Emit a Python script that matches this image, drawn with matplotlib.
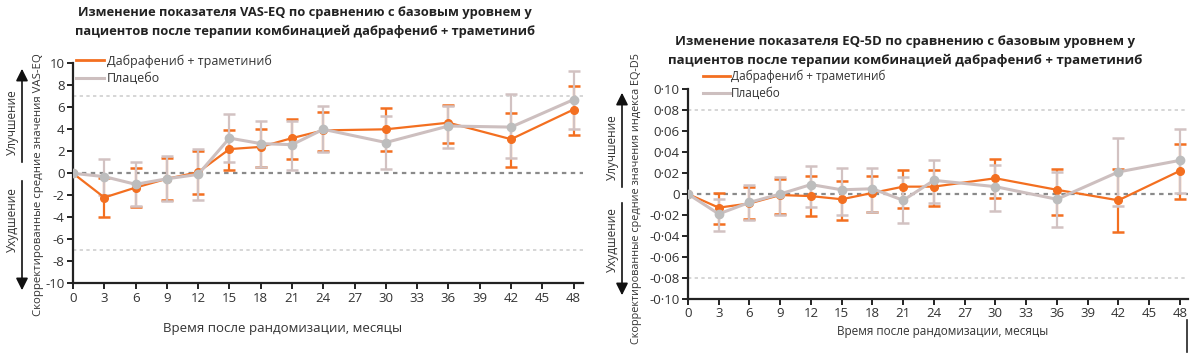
import matplotlib
matplotlib.use("Agg")
import matplotlib.pyplot as plt
from matplotlib.lines import Line2D
import numpy as np

plt.rcParams['font.family'] = ['Open Sans', 'DejaVu Sans']

# ---------------- data ----------------
months = [0, 3, 6, 9, 12, 15, 18, 21, 24, 30, 36, 42, 48]
xticks = list(range(0, 49, 3))

# VAS-EQ
vas_dt_mean = [0, -2.2, -1.3, -0.5, 0.1, 2.2, 2.4, 3.2, 3.9, 4.0, 4.6, 3.1, 5.8]
vas_dt_low = [0, -4.0, -3.1, -2.4, -1.9, 0.3, 0.6, 1.3, 2.0, 2.0, 2.8, 0.6, 3.5]
vas_dt_high = [0, -0.4, 0.5, 1.4, 2.0, 3.9, 4.0, 4.9, 5.6, 5.9, 6.2, 5.5, 7.9]
vas_pl_mean = [0, -0.3, -1.0, -0.5, -0.1, 3.2, 2.7, 2.6, 4.0, 2.8, 4.3, 4.2, 6.7]
vas_pl_low = [0, -2.0, -3.0, -2.5, -2.4, 1.0, 0.6, 0.3, 1.9, 0.4, 2.3, 1.4, 4.0]
vas_pl_high = [0, 1.3, 1.0, 1.6, 2.2, 5.4, 4.8, 4.8, 6.1, 5.2, 6.1, 7.2, 9.3]
vas_yticks = list(range(-10, 11, 2))

# EQ-5D
eq_dt_mean = [0, -0.013, -0.009, -0.001, -0.002, -0.005, 0.001, 0.007, 0.007, 0.015, 0.004, -0.006, 0.022]
eq_dt_low = [0, -0.029, -0.024, -0.019, -0.021, -0.025, -0.017, -0.013, -0.011, -0.004, -0.020, -0.036, -0.005]
eq_dt_high = [0, 0.001, 0.007, 0.014, 0.017, 0.012, 0.017, 0.023, 0.023, 0.033, 0.024, 0.024, 0.048]
eq_pl_mean = [0, -0.019, -0.008, 0.000, 0.009, 0.004, 0.005, -0.006, 0.013, 0.007, -0.005, 0.021, 0.032]
eq_pl_low = [0, -0.035, -0.025, -0.020, -0.012, -0.020, -0.017, -0.028, -0.009, -0.016, -0.031, -0.011, 0.001]
eq_pl_high = [0, -0.005, 0.009, 0.016, 0.027, 0.025, 0.025, 0.016, 0.032, 0.028, 0.021, 0.053, 0.062]
eq_yticks = [-0.10, -0.08, -0.06, -0.04, -0.02, 0, 0.02, 0.04, 0.06, 0.08, 0.10]

label_dt = "Дабрафениб + траметиниб"
label_pl = "Плацебо"

ORANGE = "#F36F20"
GRAY_LINE = "#CDBFBF"
GRAY_MARK = "#BDBDBD"
GRAY_ERR = "#D2C2C2"

W, H = 1200, 359
fig = plt.figure(figsize=(W / 100, H / 100), dpi=100)


def px_axes(l, t, r, b):
    return fig.add_axes([l / W, 1 - b / H, (r - l) / W, (b - t) / H])


def draw(ax, mean_dt, lo_dt, hi_dt, mean_pl, lo_pl, hi_pl, capsize):
    x = np.array(months, dtype=float)
    for mean, lo, hi, ecol in ((mean_dt, lo_dt, hi_dt, ORANGE), (mean_pl, lo_pl, hi_pl, GRAY_ERR)):
        mean = np.array(mean); lo = np.array(lo); hi = np.array(hi)
        err = np.vstack([mean - lo, hi - mean])
        ax.errorbar(x[1:], mean[1:], yerr=err[:, 1:], fmt='none', ecolor=ecol,
                    elinewidth=1.6, capsize=capsize, capthick=1.8, zorder=2)
    ax.plot(x, mean_dt, color=ORANGE, lw=1.6, marker='o', ms=5.5, mfc=ORANGE, mec=ORANGE, zorder=4)
    ax.plot(x, mean_pl, color=GRAY_LINE, lw=2.2, marker='o', ms=6, mfc=GRAY_MARK, mec=GRAY_MARK, zorder=5)
    for s in ('top', 'right'):
        ax.spines[s].set_visible(False)
    for s in ('left', 'bottom'):
        ax.spines[s].set_linewidth(1.6)
        ax.spines[s].set_color('#222222')
    ax.set_xticks(xticks)
    ax.set_xticklabels([str(t) for t in xticks])
    ax.tick_params(axis='both', length=4, width=1.4, color='#222222', labelsize=9.5,
                   labelcolor='#333333', pad=2)


# ---------------- left: VAS-EQ ----------------
ax1 = px_axes(73, 63.3, 583, 283.3)
ax1.set_xlim(0, 48.9)
ax1.set_ylim(-10, 10)
ax1.axhline(0, color='#8a8a8a', lw=1.6, ls=(0, (2, 2)), zorder=1)
for v in (7, -7):
    ax1.axhline(v, color='#cfcfcf', lw=1.2, ls=(0, (2, 2)), zorder=1)
draw(ax1, vas_dt_mean, vas_dt_low, vas_dt_high, vas_pl_mean, vas_pl_low, vas_pl_high, 4)
ax1.set_yticks(vas_yticks)
ax1.set_yticklabels([f"{t}" for t in vas_yticks])
ax1.set_xlabel("Время после рандомизации, месяцы", fontsize=9.5, color='#333333')
ax1.xaxis.set_label_coords(0.41, -0.175)
ax1.set_ylabel("Скорректированные средние значения VAS-EQ", fontsize=8.2, color='#333333')
ax1.yaxis.set_label_coords(-0.057, 0.45)
h = [Line2D([], [], color=ORANGE, lw=2), Line2D([], [], color=GRAY_LINE, lw=2.2)]
ax1.legend(h, [label_dt, label_pl], loc='upper left', bbox_to_anchor=(0.005, 1.04),
           frameon=False, fontsize=9, handlelength=2.3, handletextpad=0.2,
           labelspacing=0.35, borderpad=0, borderaxespad=0, labelcolor='#333333')
fig.text(305 / W, 1 - 22 / H,
         "Изменение показателя VAS-EQ по сравнению с базовым уровнем у\n"
         "пациентов после терапии комбинацией дабрафениб + траметиниб",
         ha='center', va='center', fontsize=9.3, fontweight='bold', color='#222222',
         linespacing=1.55)

# ---------------- right: EQ-5D ----------------
ax2 = px_axes(688, 89, 1188, 299)
ax2.set_xlim(0, 48.8)
ax2.set_ylim(-0.10, 0.10)
ax2.axhline(0, color='#8a8a8a', lw=1.6, ls=(0, (2, 2)), zorder=1)
for v in (0.08, -0.08):
    ax2.axhline(v, color='#cfcfcf', lw=1.2, ls=(0, (2, 2)), zorder=1)
draw(ax2, eq_dt_mean, eq_dt_low, eq_dt_high, eq_pl_mean, eq_pl_low, eq_pl_high, 4)
ax2.set_yticks(eq_yticks)
ax2.set_yticklabels(["0" if abs(t) < 1e-9 else (f"{t:.2f}".replace(".", "·")) for t in eq_yticks])
ax2.set_xlabel("Время после рандомизации, месяцы", fontsize=8.5, color='#333333')
ax2.xaxis.set_label_coords(0.51, -0.125)
ax2.set_ylabel("Скорректированные средние значения индекса EQ-D5", fontsize=7.8, color='#333333')
ax2.yaxis.set_label_coords(-0.092, 0.48)
h2 = [Line2D([], [], color=ORANGE, lw=2), Line2D([], [], color=GRAY_LINE, lw=2.2)]
ax2.legend(h2, [label_dt, label_pl], loc='upper left', bbox_to_anchor=(0.03, 1.09),
           frameon=False, fontsize=8.5, handlelength=2.3, handletextpad=0.1,
           labelspacing=0.3, borderpad=0, borderaxespad=0, labelcolor='#333333')
fig.text(905 / W, 1 - 51 / H,
         "Изменение показателя EQ-5D по сравнению с базовым уровнем у\n"
         "пациентов после терапии комбинацией дабрафениб + траметиниб",
         ha='center', va='center', fontsize=9.5, fontweight='bold', color='#222222',
         linespacing=1.65)

# ---------------- side arrows ----------------
def arrows(x, up_top, up_bot, dn_top, dn_bot, t_up, t_dn, tx):
    ap = dict(arrowstyle='-|>,head_width=0.3,head_length=0.6', color='#111111', lw=1.2)
    fig.add_artist(matplotlib.patches.FancyArrowPatch(
        (x / W, 1 - up_bot / H), (x / W, 1 - up_top / H), transform=fig.transFigure,
        mutation_scale=12, **ap))
    fig.add_artist(matplotlib.patches.FancyArrowPatch(
        (x / W, 1 - dn_top / H), (x / W, 1 - dn_bot / H), transform=fig.transFigure,
        mutation_scale=12, **ap))
    fig.text(tx / W, 1 - t_up / H, "Улучшение", rotation=90, ha='center', va='center',
             fontsize=8.5, color='#333333')
    fig.text(tx / W, 1 - t_dn / H, "Ухудшение", rotation=90, ha='center', va='center',
             fontsize=8.5, color='#333333')


arrows(22, 66, 165, 178, 293, 122, 220, 12)
arrows(622, 90, 190, 200, 298, 147, 240, 612)

# cropping artifact at lower right
fig.add_artist(Line2D([1187 / W, 1187 / W], [1 - 320 / H, 1 - 352 / H], color='#222222', lw=1.2))

fig.savefig("out.png", dpi=100)
